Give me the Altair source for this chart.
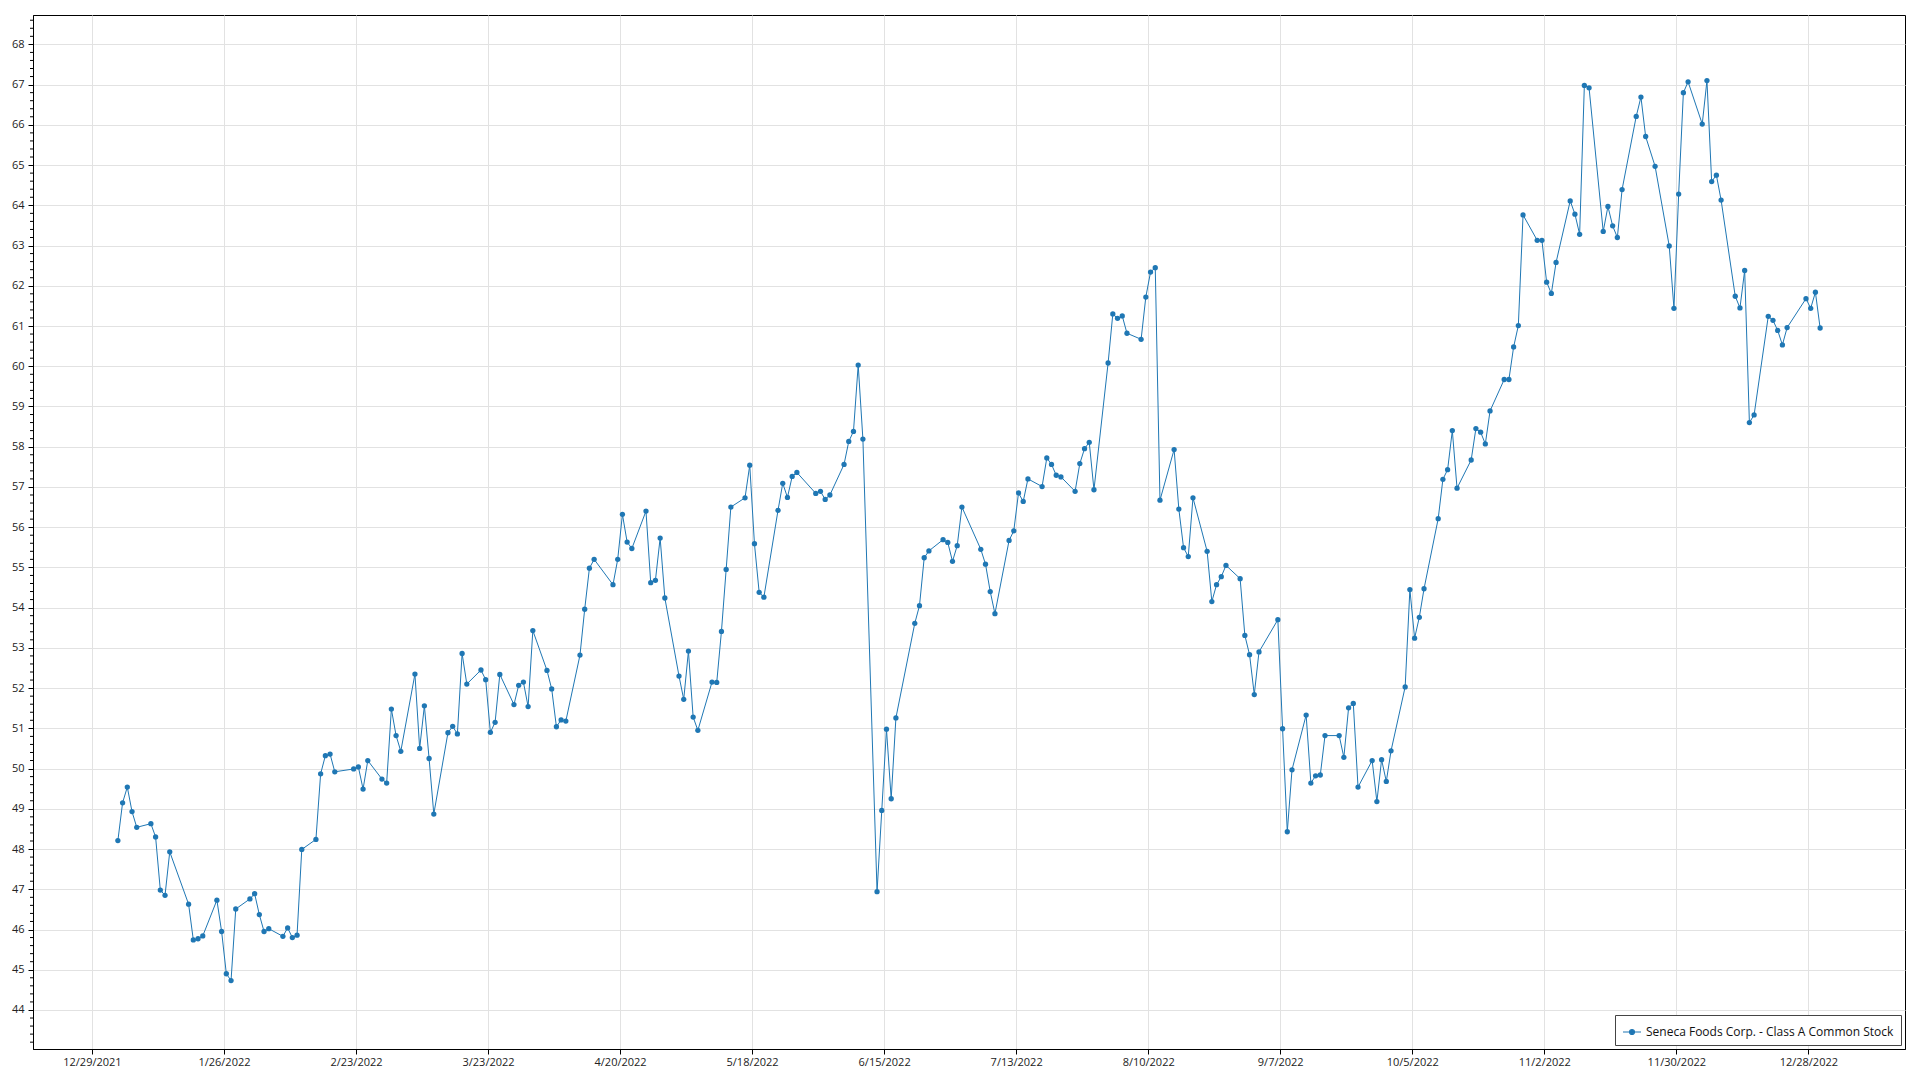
import altair as alt
import pandas as pd

SERIES = "Seneca Foods Corp. - Class A Common Stock"

jan_days = [3, 4, 5, 6, 7, 10, 11, 12, 13, 14, 18, 19, 20, 21, 24, 25, 26, 27, 28, 31]
jan_vals = [48.21, 49.15, 49.54, 48.93, 48.54, 48.63, 48.30, 46.98, 46.85, 47.93, 46.63, 45.74, 45.77, 45.84, 46.73, 45.95, 44.90, 44.73, 46.51, 46.76]
feb_days = [1, 2, 3, 4, 7, 8, 9, 10, 11, 14, 15, 16, 17, 18, 22, 23, 24, 25, 28]
feb_vals = [46.89, 46.37, 45.95, 46.02, 45.83, 46.04, 45.80, 45.86, 47.99, 48.24, 49.87, 50.32, 50.36, 49.92, 49.99, 50.04, 49.49, 50.20, 49.74]
mar_days = [1, 2, 3, 4, 7, 8, 9, 10, 11, 14, 15, 16, 17, 18, 21, 22, 23, 24, 25, 28, 29, 30, 31]
mar_vals = [49.64, 51.48, 50.82, 50.43, 52.35, 50.50, 51.56, 50.25, 48.87, 50.89, 51.05, 50.86, 52.86, 52.10, 52.45, 52.21, 50.90, 51.15, 52.34, 51.59, 52.07, 52.15, 51.54]
apr_days = [1, 4, 5, 6, 7, 8, 11, 12, 13, 14, 18, 19, 20, 21, 22, 25, 26, 27, 28, 29]
apr_vals = [53.43, 52.44, 51.98, 51.04, 51.21, 51.18, 52.82, 53.96, 54.98, 55.20, 54.57, 55.20, 56.32, 55.63, 55.47, 56.40, 54.62, 54.68, 55.73, 54.24]
may_days = [2, 3, 4, 5, 6, 9, 10, 11, 12, 13, 16, 17, 18, 19, 20, 23, 24, 25, 26, 27, 31]
may_vals = [52.30, 51.72, 52.92, 51.28, 50.95, 52.15, 52.14, 53.41, 54.95, 56.50, 56.73, 57.54, 55.59, 54.38, 54.26, 56.42, 57.09, 56.74, 57.26, 57.36, 56.84]
jun_days = [1, 2, 3, 6, 7, 8, 9, 10, 13, 14, 15, 16, 17, 21, 22, 23, 24, 27, 28, 29, 30]
jun_vals = [56.89, 56.69, 56.80, 57.56, 58.13, 58.38, 60.03, 58.19, 46.94, 48.96, 50.98, 49.25, 51.26, 53.61, 54.05, 55.24, 55.41, 55.69, 55.62, 55.15, 55.54]
jul_days = [1, 5, 6, 7, 8, 11, 12, 13, 14, 15, 18, 19, 20, 21, 22, 25, 26, 27, 28, 29]
jul_vals = [56.50, 55.45, 55.08, 54.40, 53.85, 55.67, 55.91, 56.85, 56.64, 57.20, 57.01, 57.72, 57.56, 57.29, 57.25, 56.89, 57.58, 57.95, 58.11, 56.93]
aug_days = [1, 2, 3, 4, 5, 8, 9, 10, 11, 12, 15, 16, 17, 18, 19, 22, 23, 24, 25, 26, 29, 30, 31]
aug_vals = [60.08, 61.30, 61.19, 61.25, 60.82, 60.67, 61.72, 62.34, 62.45, 56.67, 57.93, 56.45, 55.49, 55.27, 56.73, 55.40, 54.15, 54.57, 54.77, 55.05, 54.72, 53.31, 52.83]
sep_days = [1, 2, 6, 7, 8, 9, 12, 13, 14, 15, 16, 19, 20, 21, 22, 23, 26, 27, 28, 29, 30]
sep_vals = [51.84, 52.90, 53.70, 50.99, 48.43, 49.97, 51.33, 49.64, 49.82, 49.84, 50.82, 50.82, 50.28, 51.51, 51.62, 49.54, 50.20, 49.18, 50.22, 49.68, 50.44]
oct_days = [3, 4, 5, 6, 7, 10, 11, 12, 13, 14, 17, 18, 19, 20, 21, 24, 25, 26, 27, 28, 31]
oct_vals = [52.03, 54.45, 53.24, 53.76, 54.47, 56.21, 57.19, 57.43, 58.40, 56.97, 57.67, 58.45, 58.36, 58.07, 58.89, 59.67, 59.67, 60.48, 61.01, 63.76, 63.13]
nov_days = [1, 2, 3, 4, 7, 8, 9, 10, 11, 14, 15, 16, 17, 18, 21, 22, 23, 25, 28, 29, 30]
nov_vals = [63.13, 62.09, 61.81, 62.58, 64.11, 63.78, 63.28, 66.98, 66.92, 63.35, 63.97, 63.49, 63.20, 64.39, 66.21, 66.69, 65.71, 64.97, 62.99, 61.44, 64.28]
dec_days = [1, 2, 5, 6, 7, 8, 9, 12, 13, 14, 15, 16, 19, 20, 21, 22, 23, 27, 28, 29, 30]
dec_vals = [66.80, 67.07, 66.02, 67.10, 64.59, 64.75, 64.13, 61.74, 61.45, 62.38, 58.60, 58.79, 61.24, 61.14, 60.89, 60.53, 60.96, 61.68, 61.44, 61.84, 60.95]

x_tick_dates = ["2021-12-29", "2022-01-26", "2022-02-23", "2022-03-23", "2022-04-20",
                "2022-05-18", "2022-06-15", "2022-07-13", "2022-08-10", "2022-09-07",
                "2022-10-05", "2022-11-02", "2022-11-30", "2022-12-28"]
y_ticks = list(range(44, 69))
y_minor = [round(43.2 + 0.2 * i, 1) for i in range(0, 128)]

month_data = [
    (1, jan_days, jan_vals), (2, feb_days, feb_vals), (3, mar_days, mar_vals),
    (4, apr_days, apr_vals), (5, may_days, may_vals), (6, jun_days, jun_vals),
    (7, jul_days, jul_vals), (8, aug_days, aug_vals), (9, sep_days, sep_vals),
    (10, oct_days, oct_vals), (11, nov_days, nov_vals), (12, dec_days, dec_vals),
]
rows = []
for m, days, vals in month_data:
    assert len(days) == len(vals)
    for d, v in zip(days, vals):
        rows.append({"date": f"2022-{m:02d}-{d:02d}T12:00:00Z", "price": v, "series": SERIES})
df = pd.DataFrame(rows)
minor_df = pd.DataFrame({"v": [v for v in y_minor if v not in y_ticks]})


def dt(s, hours=0):
    y, mo, d = (int(p) for p in s.split("-"))
    return alt.DateTime(year=y, month=mo, date=d, hours=hours, utc=True)


COLOR = "#1f77b4"
FONT = "Open Sans"

x_scale = alt.Scale(type="utc", domain=[dt("2021-12-16", 12), dt("2023-01-17", 12)])
y_scale = alt.Scale(domain=[43.03, 68.73], nice=False, zero=False)

x_axis = alt.Axis(
    values=[dt(s) for s in x_tick_dates],
    labelExpr="utcFormat(datum.value, '%-m/%-d/%Y')",
    title=None, grid=True, gridColor="#e2e2e2", gridWidth=1,
    tickSize=5, tickColor="#000", domainColor="#000",
    labelFont=FONT, labelFontSize=11, labelColor="#222", labelPadding=2,
)
y_axis = alt.Axis(
    values=y_ticks, title=None, grid=True, gridColor="#e2e2e2", gridWidth=1,
    tickSize=5, tickColor="#000", domainColor="#000",
    labelFont=FONT, labelFontSize=11, labelColor="#222", labelPadding=4,
)

legend_symbol = "M-1,0H1M-0.28,0A0.28,0.28,0,1,1,0.28,0A0.28,0.28,0,1,1,-0.28,0Z"

color = alt.Color(
    "series:N",
    scale=alt.Scale(range=[COLOR]),
    legend=alt.Legend(
        title=None, orient="none", legendX=1582, legendY=1000,
        strokeColor="#444", fillColor="white", padding=7, cornerRadius=0,
        labelFont=FONT, labelFontSize=12, labelColor="#111", labelLimit=400,
        symbolType=legend_symbol, symbolSize=324, symbolStrokeWidth=1.2,
        symbolFillColor=COLOR, symbolStrokeColor=COLOR, symbolOpacity=1,
    ),
)

base = alt.Chart(df)
line = base.mark_line(strokeWidth=1, color=COLOR).encode(
    x=alt.X("date:T", scale=x_scale, axis=x_axis),
    y=alt.Y("price:Q", scale=y_scale, axis=y_axis),
    color=color,
)
points = base.mark_circle(size=28, opacity=1, color=COLOR).encode(
    x=alt.X("date:T", scale=x_scale),
    y=alt.Y("price:Q", scale=y_scale),
    color=alt.Color("series:N", scale=alt.Scale(range=[COLOR]), legend=None),
)
minor_ticks = alt.Chart(minor_df).mark_rule(color="#000", strokeWidth=1).encode(
    y=alt.Y("v:Q", scale=y_scale),
    x=alt.value(-3),
    x2=alt.value(0),
)

chart = alt.layer(line, points, minor_ticks).properties(
    width=1872, height=1034,
    autosize=alt.AutoSizeParams(type="none"),
    padding={"left": 25, "top": 7, "right": 7, "bottom": 24},
    background="white",
).configure_view(stroke="#000", strokeWidth=1)

chart.save("out.html", embed_options={"renderer": "svg", "actions": False})
